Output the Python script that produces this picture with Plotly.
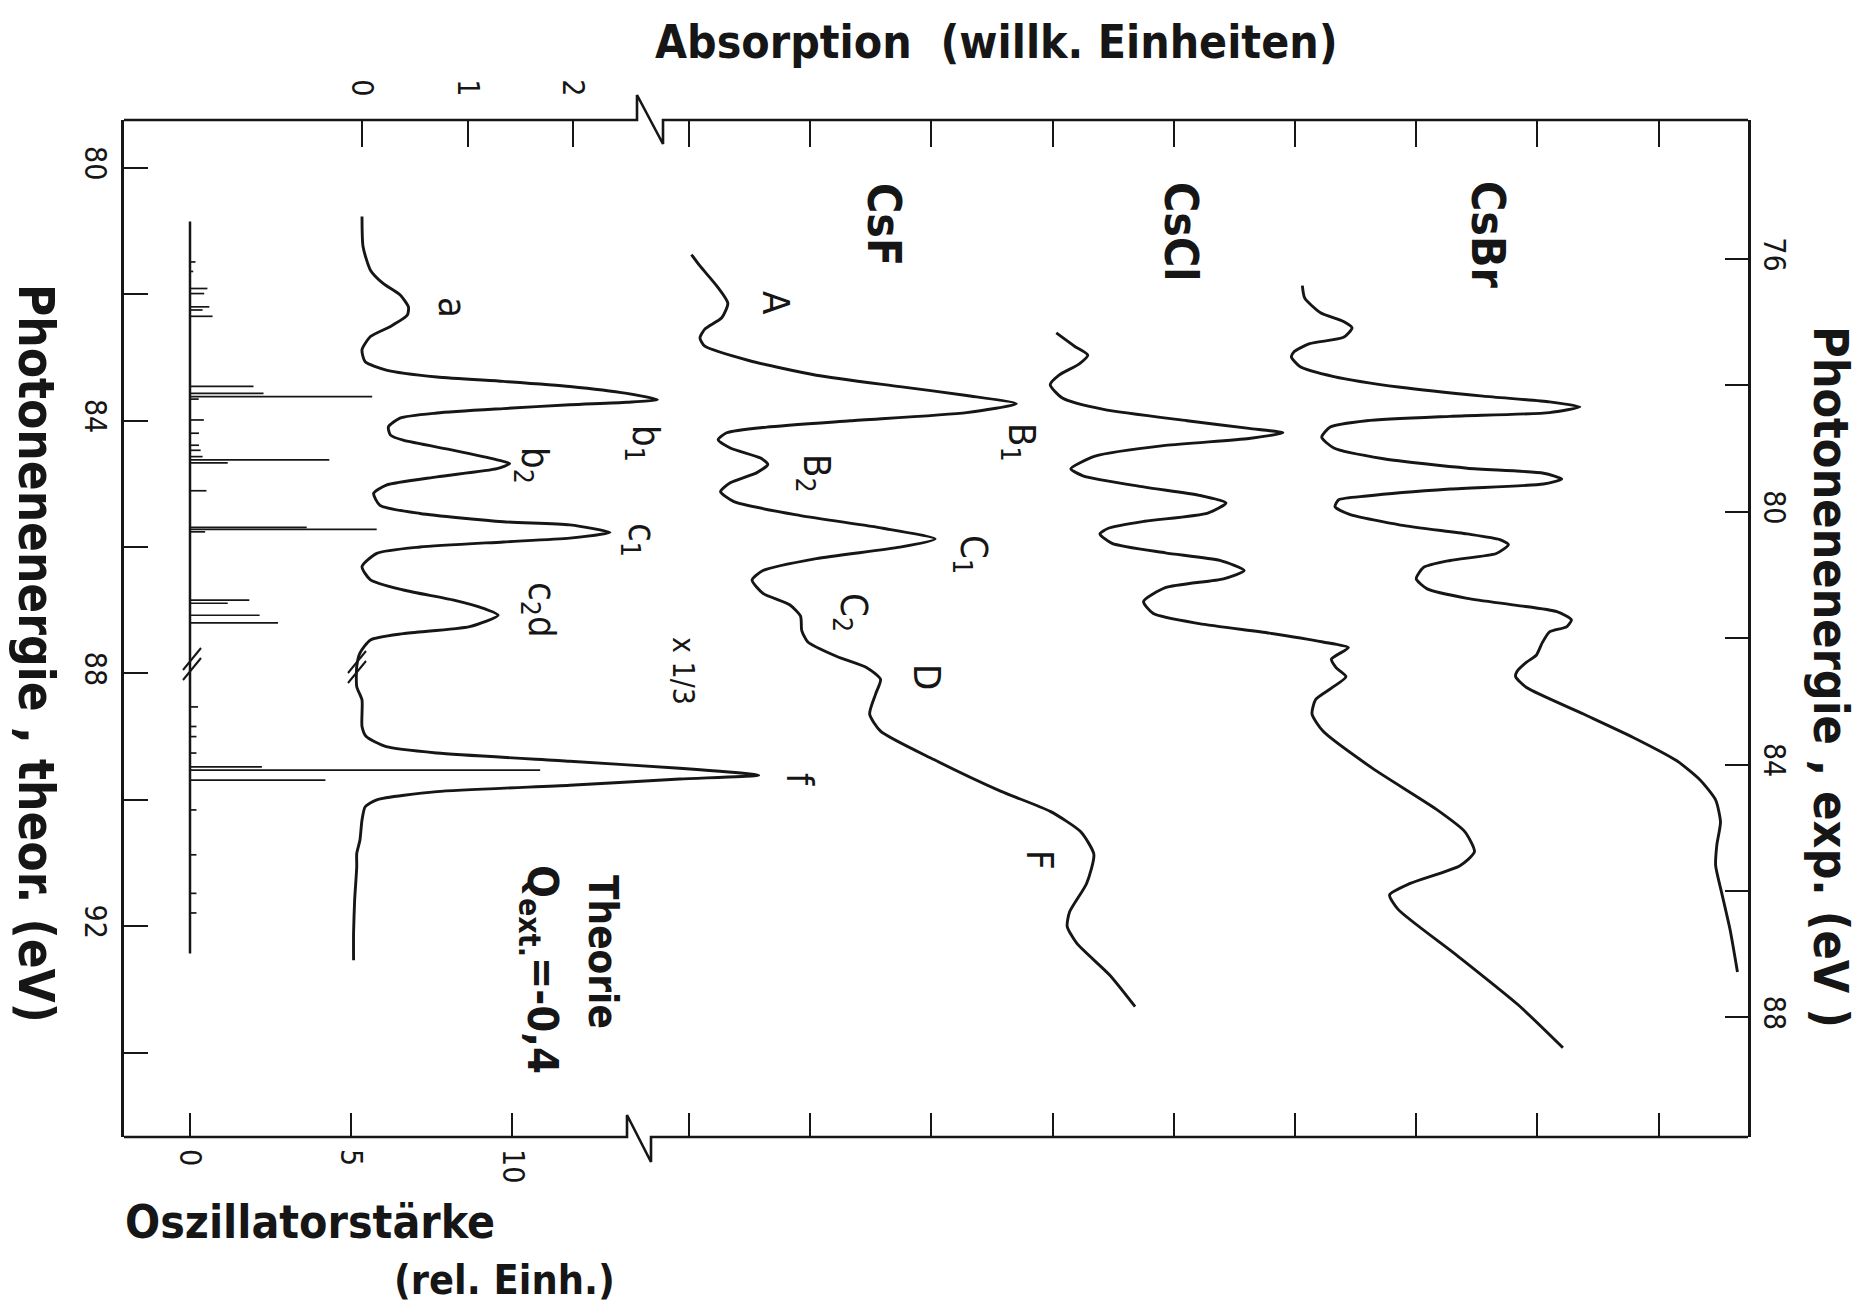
import plotly.graph_objects as go

# ---------------------------------------------------------------------------
# Theoretical absorption spectrum (Q_ext = -0.4), theoretical photon energy (eV)
theory_energy = [80.77, 81.25, 81.62, 81.83, 82.01, 82.20, 82.33, 82.51, 82.67, 82.88,
                 83.07, 83.20, 83.31, 83.38, 83.46, 83.57, 83.67, 83.71, 83.75, 83.81,
                 83.88, 83.96, 84.10, 84.23, 84.31, 84.47, 84.62, 84.68, 84.76, 84.89,
                 85.02, 85.15, 85.34, 85.47, 85.60, 85.65, 85.77, 85.86, 85.92, 86.00,
                 86.10, 86.31, 86.52, 86.68, 86.84, 86.97, 87.08, 87.26, 87.37, 87.47,
                 87.68, 87.89, 88.21, 88.42, 88.84, 89.00, 89.16, 89.26, 89.39, 89.50,
                 89.61, 89.67, 89.77, 89.87, 90.00, 90.11, 90.32, 90.64, 90.85, 91.06,
                 91.59, 92.11, 92.54]
theory_absorption = [0.00, 0.01, 0.08, 0.20, 0.36, 0.44, 0.43, 0.27, 0.08, 0.00,
                     0.03, 0.23, 0.71, 1.34, 1.97, 2.51, 2.80, 2.51, 1.97, 1.34,
                     0.71, 0.36, 0.25, 0.27, 0.39, 0.87, 1.28, 1.40, 1.28, 0.71,
                     0.23, 0.11, 0.17, 0.55, 1.34, 1.97, 2.35, 1.97, 1.34, 0.55,
                     0.14, 0.00, 0.08, 0.39, 0.87, 1.15, 1.29, 1.02, 0.39, 0.08,
                     -0.02, -0.05, -0.05, 0.00, 0.00, 0.04, 0.23, 0.71, 1.97, 3.01,
                     3.76, 3.01, 1.97, 0.71, 0.14, 0.03, 0.00, -0.02, -0.05, -0.05,
                     -0.07, -0.08, -0.08]

# Oscillator strengths of the individual transitions (rel. units)
stick_energy = [81.49, 81.64, 81.91, 81.99, 82.20, 82.25, 82.35, 83.46, 83.57, 83.62,
                83.66, 83.99, 84.20, 84.39, 84.47, 84.57, 84.62, 84.67, 85.11, 85.69,
                85.72, 85.76, 86.84, 86.89, 87.08, 87.20, 88.53, 88.84, 89.00, 89.26,
                89.48, 89.53, 89.69, 90.16, 90.87, 91.48, 91.79]
stick_strength = [0.17, 0.10, 0.54, 0.44, 0.60, 0.39, 0.70, 1.97, 2.28, 5.65,
                  0.27, 0.43, 0.28, 0.28, 0.33, 0.39, 4.32, 1.17, 0.51, 3.62,
                  5.79, 0.47, 1.84, 1.17, 2.16, 2.73, 0.25, 0.20, 0.20, 0.20,
                  2.23, 10.86, 4.20, 0.20, 0.20, 0.20, 0.20]
stick_span = [80.85, 92.43]

# Experimental spectra, experimental photon energy (eV), absorption above own baseline
csf_energy = [75.93, 76.11, 76.43, 76.70, 76.93, 77.11, 77.25, 77.38, 77.61, 77.84,
              78.02, 78.16, 78.29, 78.43, 78.56, 78.66, 78.75, 78.86, 78.99, 79.15,
              79.25, 79.38, 79.54, 79.68, 79.84, 80.06, 80.26, 80.43, 80.56, 80.74,
              80.93, 81.08, 81.29, 81.47, 81.65, 81.88, 82.06, 82.29, 82.47, 82.65,
              82.88, 83.20, 83.47, 83.92, 84.42, 84.74, 85.06, 85.42, 85.88, 86.33,
              86.56, 86.83, 87.33, 87.83]
csf_absorption = [0.02, 0.09, 0.23, 0.32, 0.27, 0.13, 0.09, 0.13, 0.50, 1.05,
                  1.74, 2.29, 2.70, 2.29, 1.33, 0.64, 0.31, 0.24, 0.34, 0.59,
                  0.65, 0.56, 0.34, 0.26, 0.37, 0.92, 1.60, 2.03, 1.74, 1.05,
                  0.61, 0.52, 0.61, 0.83, 0.92, 0.93, 0.98, 1.22, 1.47, 1.58,
                  1.54, 1.49, 1.58, 2.02, 2.57, 2.98, 3.23, 3.34, 3.28, 3.14,
                  3.12, 3.20, 3.47, 3.68]

cscl_energy = [77.17, 77.38, 77.52, 77.66, 77.84, 77.99, 78.20, 78.38, 78.56, 78.68,
               78.75, 78.84, 78.95, 79.12, 79.32, 79.43, 79.61, 79.74, 79.86, 80.02,
               80.15, 80.26, 80.35, 80.50, 80.65, 80.77, 80.93, 81.06, 81.20, 81.42,
               81.61, 81.77, 81.92, 82.06, 82.15, 82.33, 82.47, 82.61, 82.79, 82.97,
               83.20, 83.47, 84.06, 84.70, 85.06, 85.38, 85.60, 85.88, 86.06, 86.29,
               87.01, 87.80, 88.48]
cscl_absorption = [0.03, 0.18, 0.29, 0.22, 0.05, -0.02, 0.08, 0.42, 1.11, 1.62,
                   1.90, 1.62, 0.93, 0.35, 0.15, 0.25, 0.76, 1.21, 1.43, 1.28,
                   0.76, 0.46, 0.39, 0.49, 0.93, 1.38, 1.58, 1.41, 0.93, 0.75,
                   0.83, 1.21, 1.79, 2.23, 2.44, 2.30, 2.34, 2.42, 2.30, 2.17,
                   2.14, 2.23, 2.64, 3.16, 3.40, 3.48, 3.36, 2.95, 2.78, 2.85,
                   3.33, 3.84, 4.21]

csbr_energy = [76.42, 76.62, 76.85, 76.99, 77.09, 77.24, 77.34, 77.47, 77.55, 77.70,
               77.86, 78.03, 78.17, 78.26, 78.34, 78.43, 78.49, 78.56, 78.66, 78.82,
               78.99, 79.16, 79.31, 79.39, 79.48, 79.56, 79.64, 79.75, 79.81, 79.92,
               80.04, 80.21, 80.35, 80.44, 80.52, 80.66, 80.77, 80.88, 81.06, 81.22,
               81.37, 81.48, 81.58, 81.71, 81.82, 81.90, 82.07, 82.27, 82.38, 82.53,
               82.61, 82.78, 83.20, 83.57, 83.94, 84.24, 84.56, 84.91, 85.27, 85.60,
               86.03, 86.62, 87.28]
csbr_absorption = [0.06, 0.08, 0.21, 0.40, 0.47, 0.40, 0.12, -0.01, -0.03, 0.04,
                   0.32, 0.87, 1.55, 2.10, 2.35, 2.10, 1.28, 0.59, 0.29, 0.22,
                   0.32, 0.73, 1.42, 2.05, 2.20, 2.05, 1.28, 0.59, 0.36, 0.33,
                   0.45, 0.87, 1.42, 1.69, 1.76, 1.66, 1.28, 1.06, 1.00, 1.09,
                   1.42, 1.83, 2.16, 2.28, 2.24, 2.10, 2.04, 1.99, 1.91, 1.83,
                   1.82, 1.91, 2.38, 2.79, 3.15, 3.34, 3.47, 3.51, 3.48, 3.47,
                   3.52, 3.59, 3.65]

# baseline of each experimental curve on the (unlabelled) experimental absorption scale
baseline_offset = {"CsF": 1.0, "CsCl": 4.0, "CsBr": 6.0}

# axis ticks: labelled major ticks and unlabelled minor ticks
theor_ticks = [80, 84, 88, 92]
theor_minor = [82, 86, 90, 94]
exp_ticks = [76, 80, 84, 88]
exp_minor = [78, 82, 86]
absorption_ticks = [0, 1, 2]
strength_ticks = [0, 5, 10]
exp_scale_ticks = [1, 2, 3, 4, 5, 6, 7, 8, 9]

# ---------------------------------------------------------------------------
W, H = 1870, 1308
L, R, T, B = 124, 1748, 120, 1137
INK = "#161616"
FONT = "DejaVu Sans Condensed, DejaVu Sans, sans-serif"


def paper_x(p):
    return (p - L) / (R - L)


def paper_y(p):
    return (B - p) / (B - T)


fig = go.Figure()

line_style = dict(color=INK, width=2.9, shape="spline", smoothing=0.6)

# stick spectrum: baseline and one horizontal stick per transition
fig.add_trace(go.Scatter(x=[0, 0], y=stick_span, xaxis="x", yaxis="y", mode="lines",
                         line=dict(color=INK, width=2.5), hoverinfo="skip"))
sx, sy = [], []
for e, s in zip(stick_energy, stick_strength):
    sx += [0, s, None]
    sy += [e, e, None]
fig.add_trace(go.Scatter(x=sx, y=sy, xaxis="x", yaxis="y", mode="lines",
                         line=dict(color=INK, width=1.7), hoverinfo="skip"))

# theoretical absorption curve
fig.add_trace(go.Scatter(x=theory_absorption, y=theory_energy, xaxis="x2", yaxis="y",
                         mode="lines", line=line_style, hoverinfo="skip"))

# experimental curves
for name, en, ab in [("CsF", csf_energy, csf_absorption),
                     ("CsCl", cscl_energy, cscl_absorption),
                     ("CsBr", csbr_energy, csbr_absorption)]:
    off = baseline_offset[name]
    fig.add_trace(go.Scatter(x=[a + off for a in ab], y=en, xaxis="x3", yaxis="y2",
                             mode="lines", line=line_style, name=name, hoverinfo="skip"))

# empty trace so that the bottom experimental tick axis is rendered
fig.add_trace(go.Scatter(x=[None], y=[None], xaxis="x4", yaxis="y", hoverinfo="skip"))

tickfont = dict(family=FONT, size=30, color=INK)
common = dict(showgrid=False, zeroline=False, showline=False, ticks="inside",
              tickcolor=INK, tickwidth=2.4, tickfont=tickfont)


def minor_ticks(vals, length):
    return dict(tickmode="array", tickvals=vals, ticks="inside", ticklen=length,
                tickwidth=2.4, tickcolor=INK, showgrid=False)


fig.update_layout(
    width=W, height=H,
    margin=dict(l=L, r=W - R, t=T, b=H - B, pad=0),
    paper_bgcolor="white", plot_bgcolor="white",
    showlegend=False,
    xaxis=dict(range=[-2.047, 48.32], tickmode="array", tickvals=strength_ticks,
               ticklen=24, tickangle=90, side="bottom", anchor="y",
               ticklabelstandoff=11, **common),
    xaxis2=dict(range=[-2.256, 13.137], tickmode="array", tickvals=absorption_ticks,
                ticklen=27, tickangle=90, side="top", overlaying="x", anchor="y",
                ticklabelstandoff=18, **common),
    xaxis3=dict(range=[-3.662, 9.737], tickmode="array", tickvals=[],
                showticklabels=False, side="top", overlaying="x", anchor="y",
                minor=minor_ticks(exp_scale_ticks, 27), **common),
    xaxis4=dict(range=[-3.662, 9.737], tickmode="array", tickvals=[],
                showticklabels=False, side="bottom", overlaying="x", anchor="y",
                minor=minor_ticks(exp_scale_ticks, 24), **common),
    yaxis=dict(range=[95.335, 79.244], tickmode="array", tickvals=theor_ticks,
               ticklen=24, tickangle=90, side="left", ticklabelstandoff=0,
               minor=minor_ticks(theor_minor, 24),
               **{**common, "showline": True}, linecolor=INK, linewidth=2.6),
    yaxis2=dict(range=[89.892, 73.801], tickmode="array", tickvals=exp_ticks,
                ticklen=23, tickangle=90, side="right", overlaying="y", anchor="x",
                ticklabelstandoff=1, minor=minor_ticks(exp_minor, 23),
                **{**common, "showline": True}, linecolor=INK, linewidth=2.6),
)


# top and bottom frame lines with axis-break zigzags
def frame_path(y_line, x1, x2, up, down):
    pts = [(L, y_line), (x1, y_line), (x1, y_line - up), (x2, y_line + down),
           (x2, y_line), (R, y_line)]
    return "M " + " L ".join(f"{paper_x(a):.5f},{paper_y(b):.5f}" for a, b in pts)


shapes = [
    dict(type="path", xref="paper", yref="paper", path=frame_path(T, 637, 663, 25, 24),
         line=dict(color=INK, width=2.6)),
    dict(type="path", xref="paper", yref="paper", path=frame_path(B, 627, 651, 22, 25),
         line=dict(color=INK, width=2.6)),
]
# "//" scale-break marks on the theory curve and on the stick baseline
for cx, cy in [(357, 667), (192, 664)]:
    for d in (-5, 5):
        shapes.append(dict(type="line", xref="paper", yref="paper",
                           x0=paper_x(cx - 9), y0=paper_y(cy + 11 + d),
                           x1=paper_x(cx + 9), y1=paper_y(cy - 11 + d),
                           line=dict(color=INK, width=2.0)))
fig.update_layout(shapes=shapes)

# text (peak labels and side titles run top-to-bottom)
labels = [
    ("<b>Absorption\u00a0\u00a0(willk. Einheiten)</b>", 996, 42, 46, 0),
    ("<b>Photonenenergie , theor. (eV)</b>", 36, 653, 49, 90),
    ("<b>Photonenenergie , exp. (eV )</b>", 1831, 677, 48, 90),
    ("<b>Oszillatorstärke</b>", 310, 1222, 46, 0),
    ("<b>(rel. Einh.)</b>", 504, 1280, 41, 0),
    ("<b>CsBr</b>", 1488, 235, 46, 90),
    ("<b>CsCl</b>", 1181, 232, 46, 90),
    ("<b>CsF</b>", 884, 224, 46, 90),
    ("a", 452, 307, 38, 90),
    ("b<sub>1</sub>", 643, 443, 38, 90),
    ("b<sub>2</sub>", 533, 465, 38, 90),
    ("c<sub>1</sub>", 640, 540, 38, 90),
    ("c<sub>2</sub>d", 540, 610, 38, 90),
    ("x 1/3", 684, 671, 30, 90),
    ("f", 800, 779, 38, 90),
    ("A", 776, 303, 38, 90),
    ("B<sub>1</sub>", 1020, 442, 38, 90),
    ("B<sub>2</sub>", 815, 473, 38, 90),
    ("C<sub>1</sub>", 972, 554, 38, 90),
    ("C<sub>2</sub>", 852, 612, 38, 90),
    ("D", 927, 677, 38, 90),
    ("F", 1040, 860, 38, 90),
    ("<b>Theorie</b>", 603, 952, 40, 90),
    ("<b>Q<sub>ext.</sub>=-0,4</b>", 540, 969, 43, 90),
]
fig.update_layout(annotations=[
    dict(text=t, x=paper_x(x), y=paper_y(y), xref="paper", yref="paper",
         showarrow=False, textangle=a, xanchor="center", yanchor="middle",
         font=dict(family=FONT, size=s, color=INK))
    for t, x, y, s, a in labels
])

fig.write_html("out.html")
